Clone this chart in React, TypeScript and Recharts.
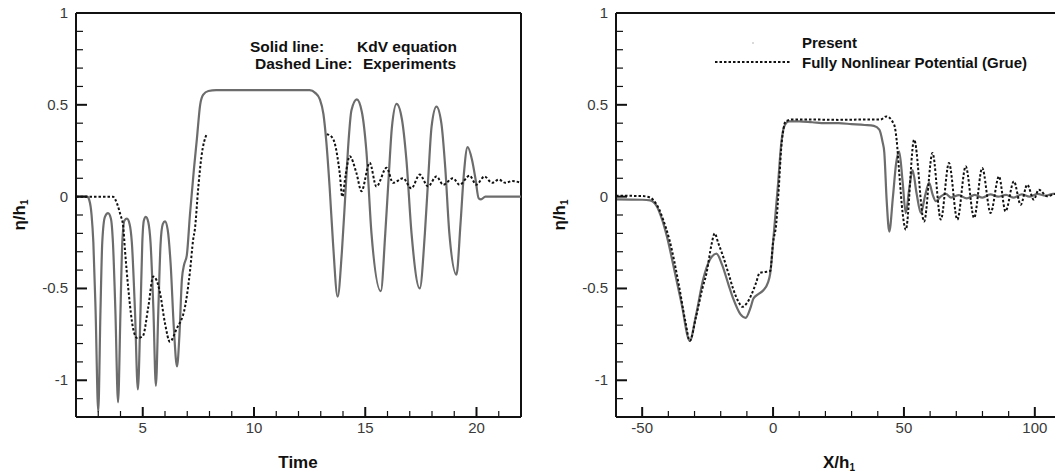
import { LineChart, Line, XAxis, YAxis, ReferenceLine } from "recharts";

// left panel: time series at the gauge
const kdvLeft: [number, number][] = [
  [2, 0], [2.5, 0], [2.6, -0.02], [2.7, -0.1], [2.78, -0.25], [2.88, -0.62], [3.0, -1.17], [3.1, -0.62],
  [3.18, -0.25], [3.3, -0.11], [3.44, -0.09], [3.57, -0.12], [3.66, -0.25], [3.77, -0.62], [3.89, -1.12],
  [4.0, -0.62], [4.08, -0.25], [4.18, -0.13], [4.29, -0.12], [4.41, -0.15], [4.51, -0.25], [4.65, -0.62],
  [4.78, -1.05], [4.9, -0.62], [4.98, -0.25], [5.05, -0.13], [5.14, -0.11], [5.25, -0.14], [5.35, -0.25],
  [5.48, -0.62], [5.59, -1.03], [5.7, -0.62], [5.8, -0.26], [5.9, -0.15], [6.0, -0.135], [6.12, -0.18],
  [6.25, -0.36], [6.4, -0.72], [6.54, -0.925], [6.65, -0.75], [6.76, -0.45], [6.86, -0.37], [6.98, -0.32],
  [7.12, -0.1], [7.3, 0.15], [7.43, 0.31], [7.58, 0.5], [7.72, 0.555], [7.95, 0.575], [8.3, 0.58],
  [12.5, 0.58], [12.75, 0.565], [12.96, 0.53], [13.12, 0.45], [13.25, 0.3], [13.4, 0.05], [13.55, -0.25],
  [13.76, -0.545], [13.95, -0.3], [14.1, 0.0], [14.22, 0.25], [14.38, 0.47], [14.62, 0.53], [14.85, 0.46],
  [15.05, 0.25], [15.28, -0.2], [15.7, -0.515], [15.9, -0.2], [16.05, 0.1], [16.2, 0.38], [16.41, 0.505],
  [16.65, 0.42], [16.85, 0.2], [17.08, -0.2], [17.45, -0.5], [17.68, -0.2], [17.83, 0.1], [17.98, 0.38],
  [18.2, 0.49], [18.42, 0.4], [18.6, 0.15], [18.78, -0.2], [19.1, -0.425], [19.28, -0.15], [19.43, 0.12],
  [19.6, 0.27], [19.8, 0.2], [19.95, 0.1], [20.1, -0.01], [20.2, -0.015], [20.4, 0], [22, 0],
];

const expLeft: [number, number | null][] = [
  [2, 0], [3.66, 0], [3.85, -0.04], [4.0, -0.1], [4.12, -0.16], [4.2, -0.29], [4.35, -0.5], [4.57, -0.72],
  [4.75, -0.77], [5.0, -0.76], [5.25, -0.6], [5.47, -0.435], [5.6, -0.45], [5.77, -0.52], [6.0, -0.69],
  [6.22, -0.79], [6.52, -0.72], [6.9, -0.6], [7.12, -0.41], [7.27, -0.23], [7.34, -0.18], [7.5, 0.056],
  [7.64, 0.22], [7.87, 0.34], [10.5, null],
  [13.27, 0.34], [13.45, 0.33], [13.63, 0.29], [13.85, 0.13], [13.97, 0.0], [14.12, 0.12], [14.3, 0.22],
  [14.6, 0.13], [14.83, 0.03], [15.2, 0.185], [15.5, 0.055], [15.96, 0.157], [16.25, 0.075], [16.7, 0.1],
  [17.07, 0.045], [17.45, 0.12], [17.82, 0.056], [18.2, 0.11], [18.5, 0.065], [18.94, 0.1], [19.24, 0.065],
  [19.69, 0.114], [19.99, 0.065], [20.36, 0.11], [20.7, 0.075], [21.0, 0.093], [21.3, 0.075], [21.6, 0.085],
  [22, 0.075],
];

// right panel: profile along the channel
const presentRight: [number, number][] = [
  [-60, -0.015], [-50, -0.017], [-47, -0.02], [-44.5, -0.05], [-42.5, -0.12], [-40.5, -0.22], [-38, -0.38],
  [-35, -0.58], [-31.8, -0.785], [-29.5, -0.65], [-26.7, -0.45], [-24, -0.34], [-21.6, -0.31], [-19.5, -0.37],
  [-17, -0.48], [-15.1, -0.56], [-12.5, -0.64], [-10.5, -0.66], [-8.5, -0.6], [-7.5, -0.555], [-5.5, -0.53],
  [-3.7, -0.51], [-2, -0.47], [-1.1, -0.42], [0.3, -0.2], [1.8, 0.05], [3.2, 0.3], [4.5, 0.39], [6, 0.41],
  [10, 0.41], [15, 0.405], [20, 0.4], [25, 0.4], [30, 0.395], [35, 0.39], [38.5, 0.385], [40.6, 0.365],
  [41.8, 0.3], [42.5, 0.24], [43.4, -0.02], [44.4, -0.19], [45.8, 0.0], [47, 0.18], [48.2, 0.245],
  [49.5, 0.08], [50.7, -0.09], [52, 0.04], [53.3, 0.145], [54.8, 0.02], [56.5, -0.09], [58, 0.0],
  [59.6, 0.075], [61, 0.01], [62.2, -0.025], [64, 0.0], [66, 0.015], [68, -0.005], [71, 0.008],
  [74, -0.01], [77, 0.01], [80, -0.005], [83, 0.012], [86, 0.0], [89, 0.01], [92, -0.005], [95, 0.012],
  [98, 0.0], [101, 0.015], [104, 0.005], [107, 0.015], [110, 0.01],
];

const grueRight: [number, number][] = [
  [-60, 0.005], [-50, 0.003], [-47, -0.005], [-45.1, -0.03], [-43.5, -0.07], [-42, -0.125], [-39.5, -0.24],
  [-36, -0.48], [-33.5, -0.68], [-31.8, -0.785], [-29.5, -0.66], [-27, -0.5], [-25.4, -0.415], [-23.5, -0.26],
  [-22.3, -0.2], [-21, -0.25], [-19.1, -0.325], [-17, -0.42], [-15.3, -0.5], [-13.3, -0.57], [-11.7, -0.6],
  [-10, -0.58], [-8.3, -0.535], [-6.5, -0.47], [-5.1, -0.415], [-3, -0.41], [-1.1, -0.405], [0, -0.25],
  [1.2, -0.15], [2.2, 0.05], [3.1, 0.26], [4.0, 0.37], [4.8, 0.41], [7.5, 0.42], [15, 0.42], [25, 0.418],
  [35, 0.42], [41, 0.42], [43.3, 0.437], [46.3, 0.39], [47.2, 0.31], [48.2, 0.13], [49.5, -0.09],
  [50.7, -0.18], [53.9, 0.31], [57.7, -0.135], [60.9, 0.238], [64.1, -0.125], [67.2, 0.183], [70.4, -0.125],
  [73.6, 0.165], [76.8, -0.116], [79.9, 0.156], [83.1, -0.089], [86.3, 0.11], [88.8, -0.08], [92.0, 0.083],
  [94.6, -0.044], [97.1, 0.065], [99.6, -0.016], [101.5, 0.038], [104.7, 0.002], [108, 0.015], [110, 0.01],
];

const yTicks = [-1.1, -1, -0.9, -0.8, -0.7, -0.6, -0.5, -0.4, -0.3, -0.2, -0.1, 0, 0.1, 0.2, 0.3, 0.4, 0.5, 0.6, 0.7, 0.8, 0.9, 1];
const yMajor = [-1, -0.5, 0, 0.5, 1];
const xTicksLeft = [3, 4, 5, 6, 7, 8, 9, 10, 11, 12, 13, 14, 15, 16, 17, 18, 19, 20, 21];
const xMajorLeft = [5, 10, 15, 20];
const xTicksRight = [-50, -40, -30, -20, -10, 0, 10, 20, 30, 40, 50, 60, 70, 80, 90, 100];
const xMajorRight = [-50, 0, 50, 100];

const toPts = (arr: [number, number | null][]) => arr.map(([x, y]) => ({ x, y }));

const FONT = "'Liberation Sans', Arial, Helvetica, sans-serif";
const INK = "#111";
const LABEL = "#3a3a3a";
const SOLID = "#6c6c6c";

const makeXTick = (majors: number[]) => (props: any) => {
  const { x, y, payload } = props;
  const major = majors.includes(payload.value);
  return (
    <g>
      <line x1={x} x2={x} y1={y} y2={y - (major ? 10 : 6)} stroke={INK} strokeWidth={major ? 2 : 1.2} />
      {major && (
        <text x={x} y={y + 16} textAnchor="middle" fontSize={15} fontFamily={FONT} fill={LABEL}>
          {payload.value}
        </text>
      )}
    </g>
  );
};

const YTick = (props: any) => {
  const { x, y, payload } = props;
  const major = yMajor.includes(payload.value);
  return (
    <g>
      {payload.value !== 1 && (
        <line x1={x} x2={x + (major ? 11 : 7)} y1={y} y2={y} stroke={INK} strokeWidth={major ? 2 : 1.2} />
      )}
      {major && (
        <text x={x - 8} y={y + 5} textAnchor="end" fontSize={15} fontFamily={FONT} fill={LABEL}>
          {payload.value}
        </text>
      )}
    </g>
  );
};

function Panel({ domain, ticks, majors, solid, dashed, rightBorder }: {
  domain: [number, number];
  ticks: number[];
  majors: number[];
  solid: [number, number][];
  dashed: [number, number | null][];
  rightBorder?: number;
}) {
  return (
    <LineChart width={540} height={475} margin={{ top: 13, right: 19, left: 16, bottom: 28 }}>
      <XAxis
        dataKey="x"
        type="number"
        domain={domain}
        ticks={ticks}
        interval={0}
        allowDataOverflow
        tickSize={0}
        tickMargin={0}
        tickLine={false}
        height={30}
        axisLine={{ stroke: INK, strokeWidth: 2 }}
        tick={makeXTick(majors)}
      />
      <YAxis
        type="number"
        domain={[-1.2, 1]}
        ticks={yTicks}
        interval={0}
        allowDataOverflow
        tickSize={0}
        tickMargin={0}
        tickLine={false}
        width={60}
        axisLine={{ stroke: INK, strokeWidth: 2 }}
        tick={YTick}
      />
      <ReferenceLine y={1} stroke={INK} strokeWidth={2} />
      {rightBorder !== undefined && <ReferenceLine x={rightBorder} stroke={INK} strokeWidth={2} />}
      <Line
        data={toPts(solid)}
        dataKey="y"
        type="monotone"
        stroke={SOLID}
        strokeWidth={2.2}
        dot={false}
        isAnimationActive={false}
      />
      <Line
        data={toPts(dashed)}
        dataKey="y"
        type="monotone"
        stroke={INK}
        strokeWidth={2}
        strokeDasharray="2.5 2"
        dot={false}
        isAnimationActive={false}
      />
    </LineChart>
  );
}

export default function App() {
  return (
    <div style={{ position: "absolute", left: 0, top: 0, width: 1055, height: 475, overflow: "hidden", background: "#fff" }}>
      <div style={{ position: "absolute", left: 0, top: 0 }}>
        <Panel domain={[2, 22]} ticks={xTicksLeft} majors={xMajorLeft} solid={kdvLeft} dashed={expLeft} rightBorder={22} />
      </div>
      <div style={{ position: "absolute", left: 540, top: 0 }}>
        <Panel domain={[-60, 110]} ticks={xTicksRight} majors={xMajorRight} solid={presentRight} dashed={grueRight} />
      </div>
      <svg width={1055} height={475} style={{ position: "absolute", left: 0, top: 0, pointerEvents: "none" }}>
        <g fontFamily={FONT} fontWeight="bold" fill={INK}>
          <text x={298} y={468} textAnchor="middle" fontSize={17}>Time</text>
          <text x={839} y={468} textAnchor="middle" fontSize={17}>
            X/h<tspan fontSize={10} dy={3}>1</tspan>
          </text>
          <text transform="translate(25,215) rotate(-90)" textAnchor="middle" fontSize={17}>
            η/h<tspan fontSize={10} dy={3}>1</tspan>
          </text>
          <text transform="translate(565,215) rotate(-90)" textAnchor="middle" fontSize={17}>
            η/h<tspan fontSize={10} dy={3}>1</tspan>
          </text>
          <text x={250} y={52} fontSize={15.5}>Solid line:</text>
          <text x={357} y={52} fontSize={15.5}>KdV equation</text>
          <text x={255} y={69} fontSize={15.5}>Dashed Line:</text>
          <text x={363} y={69} fontSize={15.5}>Experiments</text>
          <text x={802} y={48} fontSize={15}>Present</text>
          <text x={802} y={68} fontSize={15}>Fully Nonlinear Potential (Grue)</text>
        </g>
        <circle cx={753} cy={43} r={0.8} fill="#aaa" />
        <line x1={715} x2={790} y1={62} y2={62} stroke={INK} strokeWidth={2} strokeDasharray="2.5 2" />
      </svg>
    </div>
  );
}
